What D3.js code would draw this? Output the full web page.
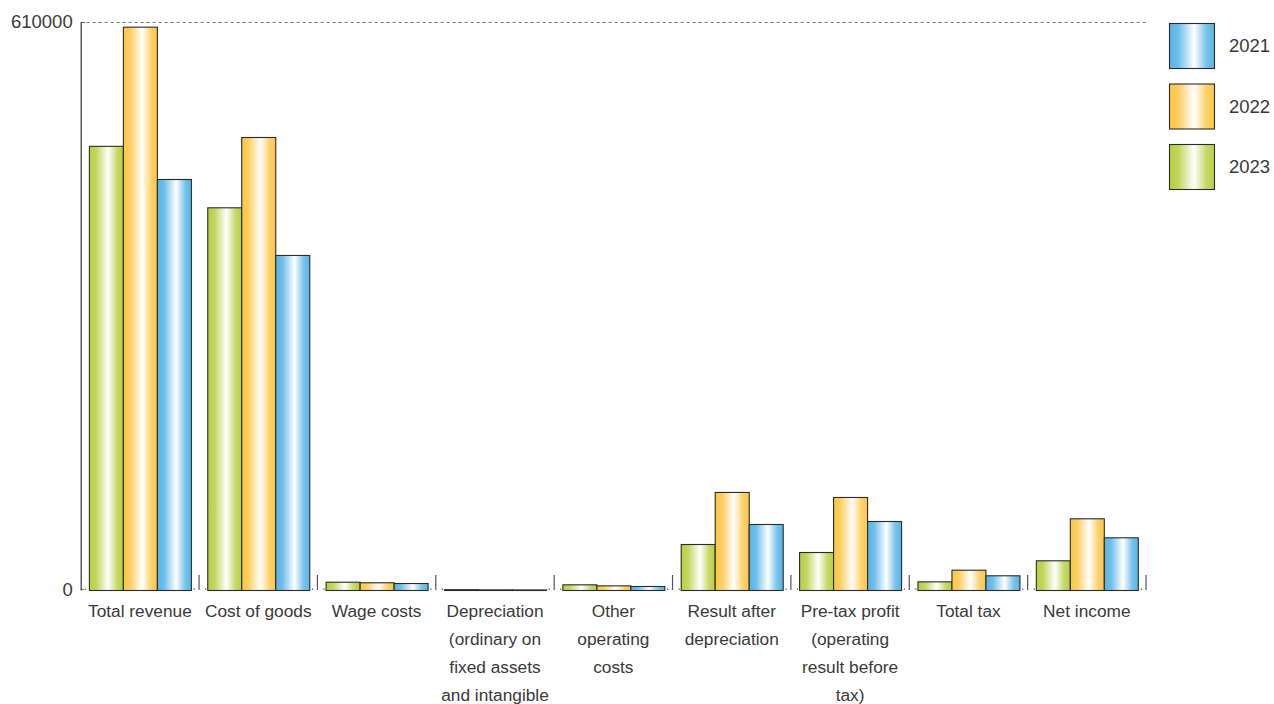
<!DOCTYPE html>
<html>
<head>
<meta charset="utf-8">
<script src="https://cdn.jsdelivr.net/npm/d3@7/dist/d3.min.js"></script>
<style>
  html, body { margin: 0; padding: 0; background: #fff; overflow: hidden; }
  svg { display: block; font-family: "Liberation Sans", Arial, sans-serif; }
</style>
</head>
<body>
<svg id="chart" width="1274" height="704"></svg>
<script>
const categories = [
  "Total revenue",
  "Cost of goods",
  "Wage costs",
  "Depreciation (ordinary on fixed assets and intangible assets)",
  "Other operating costs",
  "Result after depreciation",
  "Pre-tax profit (operating result before tax)",
  "Total tax",
  "Net income"
];
const seriesNames = ["2023", "2022", "2021"];
const values2023 = [477000, 411000, 8900, 900, 6100, 49400, 40800, 9300, 31900];
const values2022 = [605000, 486500, 8300, 700, 5000, 105300, 99900, 21800, 77000];
const values2021 = [441400, 359800, 7500, 600, 4300, 70900, 74100, 15800, 56600];
const yTickValues = [0, 610000];
const legendOrder = ["2021", "2022", "2023"];
const seriesColors = { "2021": "#56b4e6", "2022": "#fdc546", "2023": "#b6cf42" };

const seriesValues = { "2023": values2023, "2022": values2022, "2021": values2021 };

const svg = d3.select("#chart");
const plotLeft = 80.7, plotRight = 1146, plotTop = 22, plotBottom = 590;
const textColor = "#3a3a3a";

const x0 = d3.scaleBand().domain(categories).range([plotLeft, plotRight]).padding(0);
const barW = 34;
const inner = (x0.bandwidth() - barW * seriesNames.length) / 2;
const x1 = d3.scaleBand().domain(seriesNames).range([inner, inner + barW * seriesNames.length]).padding(0);
const y = d3.scaleLinear().domain([0, 610000]).range([plotBottom, plotTop]);

// gradients
const defs = svg.append("defs");
Object.entries(seriesColors).forEach(([k, c]) => {
  const g = defs.append("linearGradient").attr("id", "g" + k)
    .attr("x1", "0%").attr("x2", "100%").attr("y1", "0%").attr("y2", "0%");
  g.append("stop").attr("offset", "0%").attr("stop-color", c);
  g.append("stop").attr("offset", "20%").attr("stop-color", d3.interpolateRgb(c, "#fff")(0.15));
  g.append("stop").attr("offset", "55%").attr("stop-color", "#ffffff");
  g.append("stop").attr("offset", "82%").attr("stop-color", d3.interpolateRgb(c, "#fff")(0.2));
  g.append("stop").attr("offset", "100%").attr("stop-color", c);
});

// top dashed line
svg.append("line")
  .attr("x1", plotLeft).attr("x2", plotRight)
  .attr("y1", y(610000) + 0.5).attr("y2", y(610000) + 0.5)
  .attr("stroke", "#777").attr("stroke-width", 1).attr("stroke-dasharray", "3,3");

// y axis
const yAxis = d3.axisLeft(y).tickValues(yTickValues).tickSize(0).tickPadding(8).tickFormat(d3.format("d"));
const ya = svg.append("g").attr("transform", `translate(${plotLeft},0)`).call(yAxis);
ya.select(".domain").attr("stroke", "#333").attr("stroke-width", 1.2);
ya.selectAll("text").attr("font-size", 18.5).attr("fill", textColor)
  .attr("font-family", "Liberation Sans, Arial, sans-serif");

// top / bottom small ticks
svg.append("line").attr("x1", plotLeft).attr("x2", plotLeft + 4)
  .attr("y1", plotTop + 0.5).attr("y2", plotTop + 0.5).attr("stroke", "#555");
svg.append("line").attr("x1", plotLeft).attr("x2", plotLeft + 3)
  .attr("y1", plotBottom - 0.5).attr("y2", plotBottom - 0.5).attr("stroke", "#555");

// boundary ticks
const bounds = categories.slice(1).map(c => x0(c)).concat([plotRight]);
bounds.forEach(b => {
  svg.append("line").attr("x1", b).attr("x2", b).attr("y1", plotBottom - 15).attr("y2", plotBottom)
    .attr("stroke", "#555").attr("stroke-width", 1.2);
  svg.append("rect").attr("x", b - 5.5).attr("y", plotBottom - 1.5).attr("width", 1.2).attr("height", 1.5).attr("fill", "#666");
  if (b < plotRight) svg.append("rect").attr("x", b + 6).attr("y", plotBottom - 1.5).attr("width", 1.2).attr("height", 1.5).attr("fill", "#666");
});
svg.append("rect").attr("x", plotLeft + 4.5).attr("y", plotBottom - 1.5).attr("width", 1.2).attr("height", 1.5).attr("fill", "#666");

// bars
const groups = svg.append("g").selectAll("g").data(categories).join("g")
  .attr("transform", d => `translate(${x0(d)},0)`);
groups.selectAll("rect").data((d, i) => seriesNames.map(s => ({ s, v: seriesValues[s][i] })))
  .join("rect")
  .attr("x", d => x1(d.s) + 0.5)
  .attr("width", x1.bandwidth())
  .attr("y", d => y(d.v) + 0.5)
  .attr("height", d => Math.max(0.5, plotBottom - y(d.v)))
  .attr("fill", d => `url(#g${d.s})`)
  .attr("stroke", "#2b2b2b").attr("stroke-width", 1.1);

// x labels with wrapping
const xAxis = d3.axisBottom(x0).tickSize(0).tickPadding(0);
const xa = svg.append("g").attr("transform", `translate(0,${plotBottom})`).call(xAxis);
xa.select(".domain").remove();
xa.selectAll("text").attr("font-size", 17.3).attr("fill", textColor)
  .attr("font-family", "Liberation Sans, Arial, sans-serif")
  .attr("dy", null).attr("y", 0)
  .each(function(d) {
    const t = d3.select(this);
    const words = d.split(" ");
    t.text(null);
    const maxW = 114;
    let lines = [], line = [];
    const probe = t.append("tspan");
    words.forEach(w => {
      line.push(w);
      probe.text(line.join(" "));
      if (probe.node().getComputedTextLength() > maxW && line.length > 1) {
        line.pop();
        lines.push(line.join(" "));
        line = [w];
      }
    });
    lines.push(line.join(" "));
    probe.remove();
    lines.forEach((l, i) => {
      t.append("tspan").attr("x", 0).attr("y", 27 + i * 28).text(l);
    });
  });

// legend
const lg = svg.append("g");
legendOrder.forEach((s, i) => {
  const yy = 23 + i * 60.5;
  lg.append("rect").attr("x", 1169.5).attr("y", yy + 0.5).attr("width", 45).attr("height", 45)
    .attr("fill", `url(#g${s})`).attr("stroke", "#2b2b2b").attr("stroke-width", 1.1);
  lg.append("text").attr("x", 1229).attr("y", yy + 23).attr("dy", "0.35em")
    .attr("font-size", 18.5).attr("fill", textColor).text(s);
});
</script>
</body>
</html>
